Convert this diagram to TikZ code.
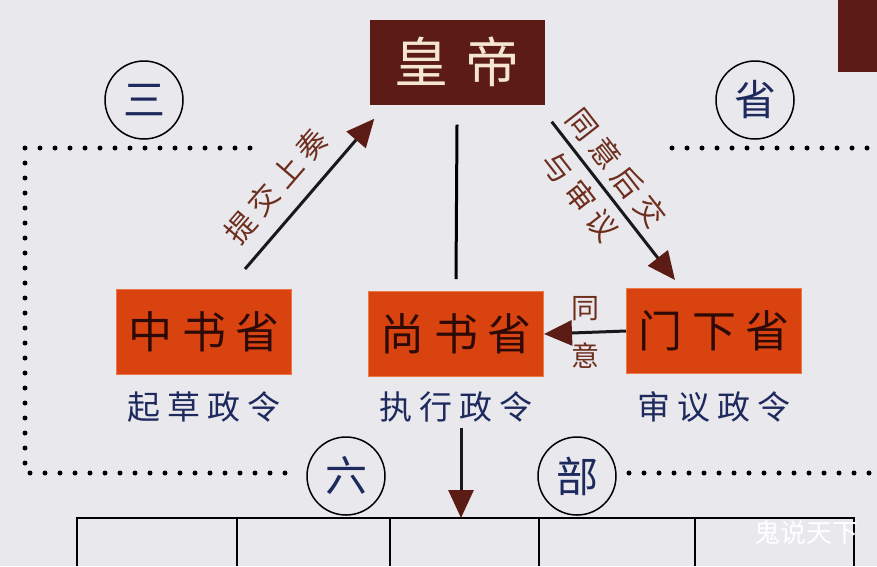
\documentclass[tikz,border=0pt]{standalone}
\usepackage{fontspec}
\newfontfamily\cjk{Noto Sans CJK SC}
\usepackage{tikz}
\usetikzlibrary{arrows.meta,positioning,calc}
\definecolor{paper}{RGB}{233,233,237}
\definecolor{emp}{RGB}{92,27,20}
\definecolor{cream}{RGB}{245,230,210}
\definecolor{org}{RGB}{216,67,15}
\definecolor{orgedge}{RGB}{236,120,70}
\definecolor{ink}{RGB}{45,10,6}
\definecolor{navy}{RGB}{30,42,94}
\definecolor{lbl}{RGB}{110,46,30}
\definecolor{tipc}{RGB}{90,28,20}
\newcommand\gap{\hspace{.22em}}
\tikzset{
  dept/.style={rectangle,fill=org,draw=orgedge,line width=1pt,minimum width=175pt,minimum height=85pt,inner sep=0pt,font=\cjk\fontsize{44}{44}\selectfont,text=ink},
  duty/.style={font=\cjk\fontsize{33}{33}\selectfont,text=navy,inner sep=0pt},
  seal/.style={circle,draw=black,fill=paper,line width=1.5pt,minimum size=78pt,inner sep=0pt,font=\cjk\fontsize{42}{42}\selectfont,text=navy},
  lab/.style={font=\cjk\fontsize{30}{30}\selectfont,text=lbl},
  arr/.style={line width=3pt,draw=black!90,-{Triangle[length=28pt,width=25pt,color=tipc]}},
  rim/.style={line width=5pt,line cap=round,dash pattern=on 0pt off 15pt},
}

\begin{document}
\begin{tikzpicture}[x=1pt,y=-1pt]
  \useasboundingbox (0,0) rectangle (877,566);
  \fill[paper] (0,0) rectangle (877,566);
  \fill[emp] (838,0) rectangle (877,72);
  % emperor and the three departments
  \node[fill=emp,minimum width=175pt,minimum height=85pt,text=cream,font=\cjk\fontsize{54}{54}\selectfont] (huang) at (457,62) {皇\hspace{.3em}帝};
  \node[dept] (zhong) at (204,332) {中\gap 书\gap 省};
  \node[dept] (shang) at (456,334) {尚\gap 书\gap 省};
  \node[dept] (men) at (714,331) {门\gap 下\gap 省};
  \node[duty,below=16pt of zhong] (qicao) {起\gap 草\gap 政\gap 令};
  \node[duty,below=14pt of shang] (zhixing) {执\gap 行\gap 政\gap 令};
  \node[duty,below=17pt of men] (shenyi) {审\gap 议\gap 政\gap 令};
  % dotted frame
  \draw[rim] (250,148) -- (25,148) -- (25,473) -- (291,473);
  \draw[rim] (672,148) -- (877,148);
  \draw[rim] (629,473) -- (877,473);
  \node[seal] (san) at (144,100) {三};
  \node[seal] (sheng) at (755,100) {省};
  \node[seal] (liu) at (346,476) {六};
  \node[seal] (bu) at (577,476) {部};
  % six ministries table
  \coordinate (tab) at (461,518);
  \draw[line width=2pt] (77,566) -- (77,518) -- (854,518) -- (854,566);
  \foreach \x in {237,390,539,695}
    \draw[line width=2pt] (\x,518) -- (\x,566);
  % flow
  \draw[arr] ($(zhong.north east)+(-47,-20)$) --
     node[lab,sloped,pos=.42,above=12pt]{提\gap 交\gap 上\gap 奏} ($(huang.south west)+(5,14)$);
  \draw[arr] ($(huang.south east)+(7,17)$) --
     node[lab,sloped,pos=.38,align=center,font=\cjk\fontsize{30}{46}\selectfont]{同\gap 意\gap 后\gap 交\\与\gap 审\gap 议} ($(men.north west)+(49,-8)$);
  \draw[arr] (men.west) --
     node[lab,align=center,font=\cjk\fontsize{28}{48}\selectfont]{同\\意} (shang.east);
  \draw[line width=3pt] ([yshift=-20pt]huang.south) -- ([yshift=12pt]shang.north);
  \draw[arr,shorten <=6pt] (zhixing.south -| tab) -- (tab);
  \node[text=white,font=\cjk\fontsize{26}{26}\selectfont] (mark) at (806,533) {鬼说天下};
\end{tikzpicture}
\end{document}
